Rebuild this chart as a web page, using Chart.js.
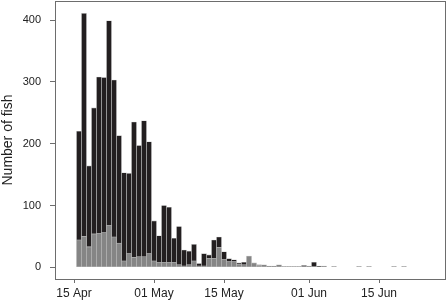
<!DOCTYPE html>
<html>
<head>
<meta charset="utf-8">
<script src="https://cdn.jsdelivr.net/npm/chart.js@4.4.0/dist/chart.umd.min.js"></script>
<style>
  html, body { margin: 0; padding: 0; background: #fff; }
  #wrap { width: 448px; height: 301px; }
</style>
</head>
<body>
<div id="wrap"><canvas id="myChart" width="448" height="301"></canvas></div>
<script>
// days after 15 Apr
const days = [1,2,3,4,5,6,7,8,9,10,11,12,13,14,15,16,17,18,19,20,21,22,23,24,25,26,27,28,29,30,31,32,33,
  34,35,36,37,38,39,40,41,42,43,44,45,46,47,48,49,50,51,52,53,54,55,56,57,58,59,60,61,62,63,64,65,66];
// lower (gray) part of each bar
const grayCounts = [44,50,33,54,55,56,68,49,39,10,22,16,17,17,22,10,8,8,8,8,4,2,4,10,2,2,14,14,32,13,9,9,5,
  4,18,7,3,4,2,2,4,1,1,1,1,1,2,1,1,2,0,1,0,0,0,0,1,0,1,0,0,0,0,1,0,1];
// upper (black) part of each bar
const blackCounts = [176,361,131,204,253,251,331,254,174,143,130,219,180,220,181,65,43,92,89,39,62,26,22,27,4,20,6,30,17,12,5,3,2,
  4,0,0,1,0,0,0,0,0,0,0,0,2,0,7,1,0,0,0,0,0,0,0,0,0,0,0,0,0,0,0,0,0];

const xTickDays = [0, 16, 30, 47, 61];
const xTickLabels = ['15 Apr', '01 May', '15 May', '01 Jun', '15 Jun'];
const yTicks = [0, 100, 200, 300, 400];

const frame = {
  id: 'frame',
  afterDraw(chart) {
    const a = chart.chartArea, ctx = chart.ctx;
    ctx.save();
    ctx.strokeStyle = '#6d6d6d';
    ctx.lineWidth = 1;
    ctx.strokeRect(a.left - 0.5, a.top + 0.5, a.right - a.left, a.bottom - a.top);
    ctx.restore();
  }
};

new Chart(document.getElementById('myChart'), {
  type: 'bar',
  data: {
    labels: days,
    datasets: [
      { label: 'gray', data: grayCounts, backgroundColor: '#858585', borderColor: '#b4b4b4', borderWidth: 0.6,
        barPercentage: 1, categoryPercentage: 1, borderSkipped: false },
      { label: 'black', data: blackCounts, backgroundColor: '#231f20', borderColor: '#b4b4b4', borderWidth: 0.6,
        barPercentage: 1, categoryPercentage: 1, borderSkipped: false }
    ]
  },
  options: {
    responsive: false,
    animation: false,
    layout: { padding: { top: 1, right: 2, left: 0, bottom: 0 } },
    plugins: { legend: { display: false }, tooltip: { enabled: false } },
    scales: {
      x: {
        type: 'linear', stacked: true, min: -3.6, max: 74.4, offset: false,
        afterBuildTicks: s => { s.ticks = xTickDays.map(v => ({ value: v })); },
        afterFit: s => { s.height = 22; s.paddingLeft = 0; s.paddingRight = 0; },
        grid: { offset: false, drawOnChartArea: false, drawTicks: true, tickLength: 4, color: '#6d6d6d' },
        border: { display: false },
        ticks: {
          autoSkip: false, maxRotation: 0, padding: 3, color: '#222',
          font: { family: 'Liberation Sans', size: 12 },
          callback: (v, i) => xTickLabels[i]
        }
      },
      y: {
        stacked: true, min: -19, max: 431,
        afterBuildTicks: s => { s.ticks = yTicks.map(v => ({ value: v })); },
        afterFit: s => { s.width = 56; s.paddingTop = 0; s.paddingBottom = 0; },
        grid: { drawOnChartArea: false, drawTicks: true, tickLength: 6, color: '#6d6d6d' },
        border: { display: false },
        ticks: { padding: 9, color: '#222', font: { family: 'Liberation Sans', size: 11 } },
        title: { display: true, text: 'Number of fish', color: '#222', padding: 0,
          font: { family: 'Liberation Sans', size: 14 } }
      }
    }
  },
  plugins: [frame]
});
</script>
</body>
</html>
